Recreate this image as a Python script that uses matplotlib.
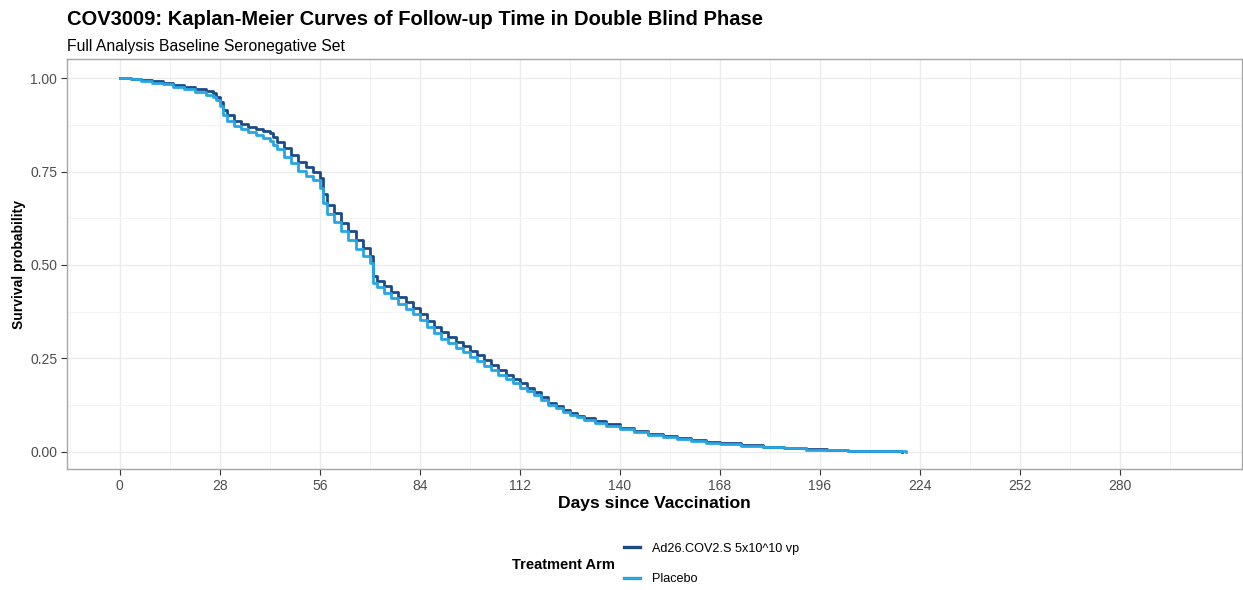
import matplotlib.pyplot as plt
import numpy as np

plt.rcParams['font.family'] = ['Liberation Sans', 'DejaVu Sans']

# Kaplan-Meier estimates (day, survival probability)
days_ad26 = [0, 3, 6, 9, 12, 15, 18, 21, 24, 26, 27, 28, 29, 30, 32, 34, 36, 38, 40, 42, 43, 44,
             46, 48, 50, 52, 54, 56, 57, 58, 60, 62, 64, 66, 68, 70, 71, 72, 74, 76, 78, 80, 82,
             84, 86, 88, 90, 92, 94, 96, 98, 100, 102, 104, 106, 108, 110, 112, 114, 116, 118,
             120, 122, 124, 126, 128, 130, 133, 136, 140, 144, 148, 152, 156, 160, 164, 168,
             174, 180, 186, 192, 198, 204, 210, 219]
surv_ad26 = [1.000, 0.998, 0.995, 0.991, 0.987, 0.982, 0.977, 0.972, 0.966, 0.960, 0.950, 0.937,
             0.915, 0.900, 0.885, 0.878, 0.870, 0.864, 0.858, 0.852, 0.842, 0.830, 0.812, 0.795,
             0.775, 0.762, 0.750, 0.732, 0.690, 0.660, 0.640, 0.612, 0.590, 0.566, 0.545, 0.525,
             0.470, 0.458, 0.444, 0.428, 0.414, 0.400, 0.386, 0.370, 0.350, 0.334, 0.320, 0.306,
             0.294, 0.282, 0.270, 0.258, 0.246, 0.232, 0.218, 0.206, 0.195, 0.183, 0.172, 0.160,
             0.148, 0.132, 0.122, 0.113, 0.105, 0.097, 0.090, 0.082, 0.074, 0.064, 0.056, 0.049,
             0.042, 0.036, 0.031, 0.027, 0.023, 0.018, 0.014, 0.010, 0.007, 0.004, 0.002, 0.001,
             0.000]

days_placebo = [0, 3, 6, 9, 12, 15, 18, 21, 24, 26, 27, 28, 29, 30, 32, 34, 36, 38, 40, 42, 43, 44,
                46, 48, 50, 52, 54, 56, 57, 58, 60, 62, 64, 66, 68, 70, 71, 72, 74, 76, 78, 80, 82,
                84, 86, 88, 90, 92, 94, 96, 98, 100, 102, 104, 106, 108, 110, 112, 114, 116, 118,
                120, 122, 124, 126, 128, 130, 133, 136, 140, 144, 148, 152, 156, 160, 164, 168,
                174, 180, 186, 192, 198, 204, 210, 220]
surv_placebo = [1.000, 0.997, 0.993, 0.988, 0.983, 0.977, 0.971, 0.964, 0.956, 0.950, 0.940, 0.925,
                0.900, 0.885, 0.872, 0.864, 0.856, 0.848, 0.840, 0.832, 0.822, 0.810, 0.790, 0.772,
                0.752, 0.738, 0.726, 0.706, 0.665, 0.636, 0.616, 0.590, 0.566, 0.544, 0.525, 0.505,
                0.452, 0.440, 0.426, 0.411, 0.396, 0.382, 0.368, 0.352, 0.334, 0.318, 0.303, 0.290,
                0.278, 0.266, 0.254, 0.243, 0.231, 0.218, 0.205, 0.194, 0.183, 0.172, 0.162, 0.151,
                0.140, 0.126, 0.116, 0.107, 0.099, 0.092, 0.085, 0.077, 0.069, 0.060, 0.052, 0.045,
                0.039, 0.034, 0.029, 0.025, 0.021, 0.017, 0.013, 0.009, 0.006, 0.004, 0.002, 0.001,
                0.000]

arm_labels = ["Ad26.COV2.S 5x10^10 vp", "Placebo"]
arm_colors = ["#1C4A86", "#27A6E1"]

xticks = np.arange(0, 281, 28)
yticks = [0.0, 0.25, 0.5, 0.75, 1.0]

fig = plt.figure(figsize=(12.43, 5.90), dpi=100)
ax = fig.add_axes([0.0539, 0.205, 0.9453, 0.695])

ax.step(days_ad26, surv_ad26, where="post", color=arm_colors[0], lw=2.0, label=arm_labels[0], zorder=3)
ax.step(days_placebo, surv_placebo, where="post", color=arm_colors[1], lw=2.0, label=arm_labels[1], zorder=3)

ax.set_xlim(-14.8, 314.2)
ax.set_ylim(-0.046, 1.051)
ax.set_xticks(xticks)
ax.set_xticks(np.append(xticks + 14, [-14]), minor=True)
ax.set_yticks(yticks)
ax.set_yticks([0.125, 0.375, 0.625, 0.875], minor=True)
ax.set_yticklabels(["0.00", "0.25", "0.50", "0.75", "1.00"])

ax.grid(which="major", color="#EBEBEB", lw=1.0)
ax.grid(which="minor", color="#F3F3F3", lw=0.6)
ax.set_axisbelow(True)
for s in ax.spines.values():
    s.set_color("#A6A6A6")
    s.set_linewidth(1.0)
ax.tick_params(which="major", length=4, color="#333333", labelsize=10, labelcolor="#4D4D4D", pad=3)
ax.tick_params(which="minor", length=0)

ax.set_xlabel("Days since Vaccination", fontsize=12.6, fontweight="bold", labelpad=2)
ax.set_ylabel("Survival probability", fontsize=10, fontweight="bold", labelpad=3)

fig.text(0.0539, 0.951, "COV3009: Kaplan-Meier Curves of Follow-up Time in Double Blind Phase",
         fontsize=14.5, fontweight="bold", va="bottom")
fig.text(0.0539, 0.909, "Full Analysis Baseline Seronegative Set", fontsize=11.3, va="bottom")

# legend at bottom: title on the left, keys stacked on the right
fig.text(512 / 1243, 1 - 565 / 590, "Treatment Arm", fontsize=10.5, fontweight="bold",
         ha="left", va="center")
leg = fig.legend(loc="center left", bbox_to_anchor=(624 / 1243, 1 - 564 / 590), frameon=False,
                 fontsize=9.1, handlelength=1.25, labelspacing=1.45, handletextpad=0.95,
                 borderpad=0, borderaxespad=0)
for line in leg.get_lines():
    line.set_linewidth(2.4)

fig.savefig("out.png", dpi=100)
